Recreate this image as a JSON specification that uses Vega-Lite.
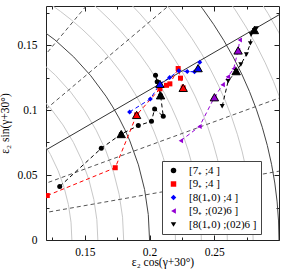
{
  "$schema": "https://vega.github.io/schema/vega-lite/v6.json",
  "width": 233,
  "height": 234,
  "autosize": {"type": "none"},
  "padding": {"left": 46, "top": 6, "right": 8, "bottom": 35},
  "background": "white",
  "config": {
    "view": {"stroke": "#222", "strokeWidth": 1},
    "axis": {"labelFont": "Liberation Serif", "titleFont": "Liberation Serif", "labelFontSize": 11.5, "titleFontSize": 11.5, "titleFontWeight": "normal", "labelColor": "#000", "titleColor": "#000", "tickColor": "#222", "domain": false, "grid": false}
  },
  "datasets": {
    "series": [
      {"s": "[7₊ ;4 ]", "o": 1, "x": 0.1306, "y": 0.0412},
      {"s": "[7₊ ;4 ]", "o": 2, "x": 0.1627, "y": 0.0705},
      {"s": "[7₊ ;4 ]", "o": 3, "x": 0.1781, "y": 0.0815},
      {"s": "[7₊ ;4 ]", "o": 4, "x": 0.1913, "y": 0.0880},
      {"s": "[7₊ ;4 ]", "o": 5, "x": 0.2015, "y": 0.0913},
      {"s": "[7₊ ;4 ]", "o": 6, "x": 0.2039, "y": 0.1008},
      {"s": "[7₊ ;4 ]", "o": 7, "x": 0.2106, "y": 0.0951},
      {"s": "[7₊ ;4 ]", "o": 8, "x": 0.2085, "y": 0.1113},
      {"s": "[7₊ ;4 ]", "o": 9, "x": 0.2059, "y": 0.1217},
      {"s": "[7₊ ;4 ]", "o": 10, "x": 0.2046, "y": 0.1268},
      {"s": "[9₊ ;4 ]", "o": 1, "x": 0.1210, "y": 0.0342},
      {"s": "[9₊ ;4 ]", "o": 2, "x": 0.1735, "y": 0.0556},
      {"s": "[9₊ ;4 ]", "o": 3, "x": 0.1900, "y": 0.0962},
      {"s": "[9₊ ;4 ]", "o": 4, "x": 0.2080, "y": 0.1163},
      {"s": "[9₊ ;4 ]", "o": 5, "x": 0.2131, "y": 0.1190},
      {"s": "[9₊ ;4 ]", "o": 6, "x": 0.2157, "y": 0.1201},
      {"s": "[9₊ ;4 ]", "o": 7, "x": 0.2221, "y": 0.1319},
      {"s": "[9₊ ;4 ]", "o": 8, "x": 0.2239, "y": 0.1245},
      {"s": "[9₊ ;4 ]", "o": 9, "x": 0.2260, "y": 0.1170},
      {"s": "[8(1₊0) ;4 ]", "o": 1, "x": 0.1846, "y": 0.0985},
      {"s": "[8(1₊0) ;4 ]", "o": 2, "x": 0.2006, "y": 0.1085},
      {"s": "[8(1₊0) ;4 ]", "o": 3, "x": 0.2080, "y": 0.1201},
      {"s": "[8(1₊0) ;4 ]", "o": 4, "x": 0.2155, "y": 0.1250},
      {"s": "[8(1₊0) ;4 ]", "o": 5, "x": 0.2226, "y": 0.1302},
      {"s": "[8(1₊0) ;4 ]", "o": 6, "x": 0.2291, "y": 0.1296},
      {"s": "[8(1₊0) ;4 ]", "o": 7, "x": 0.2347, "y": 0.1294},
      {"s": "[8(1₊0) ;4 ]", "o": 8, "x": 0.2375, "y": 0.1322},
      {"s": "[8(1₊0) ;4 ]", "o": 9, "x": 0.2388, "y": 0.1368},
      {"s": "[9₊ ;(02)6 ]", "o": 1, "x": 0.2242, "y": 0.0764},
      {"s": "[9₊ ;(02)6 ]", "o": 2, "x": 0.2386, "y": 0.0874},
      {"s": "[9₊ ;(02)6 ]", "o": 3, "x": 0.2501, "y": 0.1098},
      {"s": "[9₊ ;(02)6 ]", "o": 4, "x": 0.2565, "y": 0.1195},
      {"s": "[9₊ ;(02)6 ]", "o": 5, "x": 0.2605, "y": 0.1255},
      {"s": "[9₊ ;(02)6 ]", "o": 6, "x": 0.2650, "y": 0.1318},
      {"s": "[9₊ ;(02)6 ]", "o": 7, "x": 0.2684, "y": 0.1458},
      {"s": "[9₊ ;(02)6 ]", "o": 8, "x": 0.2697, "y": 0.1538},
      {"s": "[8(1₊0) ;(02)6 ]", "o": 1, "x": 0.2561, "y": 0.1029},
      {"s": "[8(1₊0) ;(02)6 ]", "o": 2, "x": 0.2607, "y": 0.1222},
      {"s": "[8(1₊0) ;(02)6 ]", "o": 3, "x": 0.2669, "y": 0.1299},
      {"s": "[8(1₊0) ;(02)6 ]", "o": 4, "x": 0.2705, "y": 0.1350},
      {"s": "[8(1₊0) ;(02)6 ]", "o": 5, "x": 0.2748, "y": 0.1427},
      {"s": "[8(1₊0) ;(02)6 ]", "o": 6, "x": 0.2779, "y": 0.1512},
      {"s": "[8(1₊0) ;(02)6 ]", "o": 7, "x": 0.2785, "y": 0.1582},
      {"s": "[8(1₊0) ;(02)6 ]", "o": 8, "x": 0.2810, "y": 0.1615},
      {"s": "[8(1₊0) ;(02)6 ]", "o": 9, "x": 0.2826, "y": 0.1628}
    ],
    "tri": [
      {"s": "[7₊ ;4 ]", "x": 0.1781, "y": 0.0815},
      {"s": "[7₊ ;4 ]", "x": 0.2085, "y": 0.1113},
      {"s": "[9₊ ;4 ]", "x": 0.1900, "y": 0.0962},
      {"s": "[9₊ ;4 ]", "x": 0.2260, "y": 0.1170},
      {"s": "[8(1₊0) ;4 ]", "x": 0.2080, "y": 0.1201},
      {"s": "[8(1₊0) ;4 ]", "x": 0.2375, "y": 0.1322},
      {"s": "[9₊ ;(02)6 ]", "x": 0.2501, "y": 0.1098},
      {"s": "[9₊ ;(02)6 ]", "x": 0.2684, "y": 0.1458},
      {"s": "[8(1₊0) ;(02)6 ]", "x": 0.2669, "y": 0.1299},
      {"s": "[8(1₊0) ;(02)6 ]", "x": 0.2810, "y": 0.1615}
    ],
    "lightCircles": [
      {"cx": 0, "cy": 0, "r": 0.14},
      {"cx": 0, "cy": 0, "r": 0.16},
      {"cx": 0, "cy": 0, "r": 0.18},
      {"cx": 0, "cy": 0, "r": 0.22},
      {"cx": 0, "cy": 0, "r": 0.24},
      {"cx": 0, "cy": 0, "r": 0.26},
      {"cx": 0, "cy": 0, "r": 0.28},
      {"cx": 0, "cy": 0, "r": 0.32},
      {"cx": 0, "cy": 0, "r": 0.34}
    ],
    "darkCircles": [
      {"cx": 0, "cy": 0, "r": 0.2},
      {"cx": 0, "cy": 0, "r": 0.3}
    ],
    "dashedRays": [
      {"x": 0, "y": 0, "x2": 0.3939, "y2": 0.0695},
      {"x": 0, "y": 0, "x2": 0.3759, "y2": 0.1368},
      {"x": 0, "y": 0, "x2": 0.3064, "y2": 0.2571},
      {"x": 0, "y": 0, "x2": 0.2571, "y2": 0.3064}
    ],
    "solidRays": [
      {"x": 0, "y": 0, "x2": 0.3464, "y2": 0.2}
    ]
  },
  "layer": [
    {
      "data": {"name": "lightCircles"},
      "mark": {"type": "arc", "theta": 0, "theta2": 6.2832, "filled": false, "stroke": "#c8c8c8", "strokeWidth": 1, "clip": true},
      "encoding": {
        "x": {"field": "cx", "type": "quantitative", "scale": {"domain": [0.12, 0.3], "nice": false, "zero": false},
          "axis": {"orient": "bottom", "values": [0.15, 0.2, 0.25], "format": "~g", "tickSize": -5, "labelPadding": 11, "title": "ε₂ cos(γ+30°)", "titlePadding": -1}},
        "y": {"field": "cy", "type": "quantitative", "scale": {"domain": [0, 0.18], "nice": false, "zero": false},
          "axis": {"orient": "left", "values": [0, 0.05, 0.1, 0.15], "format": "~g", "tickSize": -5, "labelPadding": 14, "title": "ε₂ sin(γ+30°)", "titlePadding": 6}},
        "radius": {"field": "r", "type": "quantitative", "stack": null, "scale": {"type": "linear", "domain": [0, 0.18], "range": [0, 233], "zero": true, "nice": false}}
      }
    },
    {
      "data": {"name": "darkCircles"},
      "mark": {"type": "arc", "theta": 0, "theta2": 6.2832, "filled": false, "stroke": "#444", "strokeWidth": 1, "clip": true},
      "encoding": {
        "x": {"field": "cx", "type": "quantitative", "axis": {"orient": "bottom", "values": [0.125, 0.175, 0.225, 0.275], "tickSize": -3, "labels": false, "title": null}},
        "y": {"field": "cy", "type": "quantitative", "axis": {"orient": "left", "values": [0.025, 0.075, 0.125, 0.175], "tickSize": -3, "labels": false, "title": null}},
        "radius": {"field": "r", "type": "quantitative", "stack": null}
      }
    },
    {
      "data": {"name": "dashedRays"},
      "mark": {"type": "rule", "stroke": "#555", "strokeWidth": 1, "strokeDash": [4, 3], "clip": true},
      "encoding": {
        "x": {"field": "x", "type": "quantitative", "axis": {"orient": "top", "values": [0.15, 0.2, 0.25], "tickSize": -5, "labels": false, "title": null}},
        "y": {"field": "y", "type": "quantitative", "axis": {"orient": "right", "values": [0, 0.05, 0.1, 0.15], "tickSize": -5, "labels": false, "title": null}},
        "x2": {"field": "x2"},
        "y2": {"field": "y2"}
      }
    },
    {
      "data": {"name": "solidRays"},
      "mark": {"type": "rule", "stroke": "#333", "strokeWidth": 1, "clip": true},
      "encoding": {
        "x": {"field": "x", "type": "quantitative", "axis": {"orient": "top", "values": [0.125, 0.175, 0.225, 0.275], "tickSize": -3, "labels": false, "title": null}},
        "y": {"field": "y", "type": "quantitative", "axis": {"orient": "right", "values": [0.025, 0.075, 0.125, 0.175], "tickSize": -3, "labels": false, "title": null}},
        "x2": {"field": "x2"},
        "y2": {"field": "y2"}
      }
    },
    {
      "data": {"name": "series"},
      "mark": {"type": "line", "strokeWidth": 1, "strokeDash": [4, 3], "clip": true},
      "encoding": {
        "x": {"field": "x", "type": "quantitative", "axis": null},
        "y": {"field": "y", "type": "quantitative", "axis": null},
        "order": {"field": "o", "type": "quantitative"},
        "detail": {"field": "s"},
        "stroke": {"field": "s", "type": "nominal", "legend": null,
          "scale": {"domain": ["[8(1₊0) ;(02)6 ]", "[9₊ ;(02)6 ]", "[8(1₊0) ;4 ]", "[9₊ ;4 ]", "[7₊ ;4 ]"], "range": ["#000000", "#9400d3", "#0000ff", "#ff0000", "#000000"]}}
      }
    },
    {
      "data": {"name": "series"},
      "mark": {"type": "point", "filled": true, "size": 25, "opacity": 1, "clip": true},
      "encoding": {
        "x": {"field": "x", "type": "quantitative", "axis": null},
        "y": {"field": "y", "type": "quantitative", "axis": null},
        "color": {"field": "s", "type": "nominal",
          "scale": {"domain": ["[7₊ ;4 ]", "[9₊ ;4 ]", "[8(1₊0) ;4 ]", "[9₊ ;(02)6 ]", "[8(1₊0) ;(02)6 ]"], "range": ["#000000", "#ff0000", "#0000ff", "#9400d3", "#000000"]},
          "legend": {"orient": "none", "legendX": 116, "legendY": 155, "title": null, "fillColor": "white", "strokeColor": "#444", "padding": 4, "labelFont": "Liberation Serif", "labelFontSize": 11, "labelColor": "#000", "symbolSize": 30, "rowPadding": 1.5, "labelOffset": 10, "symbolOffset": 2, "labelLimit": 200}},
        "shape": {"field": "s", "type": "nominal",
          "scale": {"domain": ["[7₊ ;4 ]", "[9₊ ;4 ]", "[8(1₊0) ;4 ]", "[9₊ ;(02)6 ]", "[8(1₊0) ;(02)6 ]"], "range": ["circle", "square", "diamond", "triangle-left", "triangle-down"]},
          "legend": {"orient": "none", "legendX": 116, "legendY": 155, "title": null, "fillColor": "white", "strokeColor": "#444", "padding": 4, "labelFont": "Liberation Serif", "labelFontSize": 11, "labelColor": "#000", "symbolSize": 30, "rowPadding": 1.5, "labelOffset": 10, "symbolOffset": 2, "labelLimit": 200}}
      }
    },
    {
      "data": {"name": "tri"},
      "mark": {"type": "point", "shape": "triangle-up", "size": 70, "filled": true, "opacity": 1, "stroke": "#000", "strokeWidth": 1, "clip": true},
      "encoding": {
        "x": {"field": "x", "type": "quantitative", "axis": null},
        "y": {"field": "y", "type": "quantitative", "axis": null},
        "fill": {"field": "s", "type": "nominal", "legend": null,
          "scale": {"domain": ["[9₊ ;(02)6 ]", "[8(1₊0) ;(02)6 ]", "[7₊ ;4 ]", "[9₊ ;4 ]", "[8(1₊0) ;4 ]"], "range": ["#9400d3", "#000000", "#000000", "#ff0000", "#0000ff"]}}
      }
    }
  ],
  "resolve": {"axis": {"x": "independent", "y": "independent"}}
}
